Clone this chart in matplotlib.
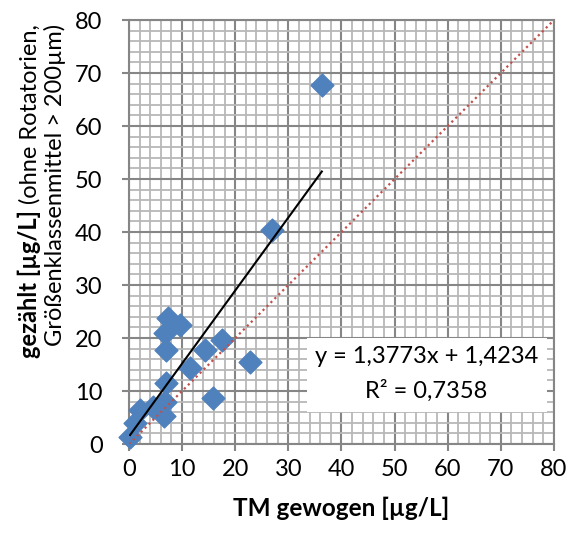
import numpy as np
import matplotlib
matplotlib.use("Agg")
import matplotlib.pyplot as plt
from matplotlib.patches import Rectangle
from matplotlib.ticker import MultipleLocator

plt.rcParams['font.family'] = ['Lato', 'DejaVu Sans']

# TM gewogen vs. gezaehlt [ug/L]
tm_gewogen = [0.2, 1.1, 2.1, 4.6, 6.5, 6.8, 7.0, 6.8, 7.0, 7.4, 9.6,
              11.5, 14.3, 15.9, 17.6, 22.8, 27.0, 36.3]
gezaehlt = [1.4, 4.0, 6.4, 7.0, 5.2, 8.0, 11.5, 20.9, 17.7, 23.7, 22.5,
            14.3, 17.7, 8.6, 19.6, 15.5, 40.3, 67.8]

# Excel trendline
slope = 1.3773
intercept = 1.4234
r2 = 0.7358

ticks = [0, 10, 20, 30, 40, 50, 60, 70, 80]

fig = plt.figure(figsize=(5.7, 5.35), dpi=100)
ax = fig.add_axes([0.2263, 0.170, 0.7456, 0.7926])

ax.set_xlim(0, 80)
ax.set_ylim(0, 80)
ax.set_xticks(ticks)
ax.set_yticks(ticks)
ax.xaxis.set_minor_locator(MultipleLocator(2))
ax.yaxis.set_minor_locator(MultipleLocator(2))
ax.grid(which='minor', color='#b8b8b8', lw=1.3, zorder=0)
ax.grid(which='major', color='#868686', lw=1.5, zorder=0)
ax.set_axisbelow(True)
for s in ax.spines.values():
    s.set_color('#868686')
    s.set_linewidth(1.5)
ax.tick_params(which='major', length=5, width=1.5, color='#868686',
               labelsize=17, pad=14)
ax.tick_params(axis='x', pad=6)
ax.tick_params(which='minor', length=0)

ax.scatter(tm_gewogen, gezaehlt, marker='D', s=135, color='#4F81BD',
           edgecolors='#4F81BD', zorder=3, clip_on=False)

# 1:1 line
ax.plot([0, 80], [0, 80], ls=(0, (1, 1.5)), color='#C0504D', lw=1.6, zorder=4)

# linear trendline over the data range
xs = np.array([min(tm_gewogen), max(tm_gewogen)])
ax.plot(xs, slope * xs + intercept, color='black', lw=1.5, zorder=4)

# equation box
ax.add_patch(Rectangle((0.419, 0.075), 0.565, 0.175, transform=ax.transAxes,
                       facecolor='white', edgecolor='none', zorder=5))
eq = "y = {}x + {}".format(str(slope).replace('.', ','), str(intercept).replace('.', ','))
ax.text(0.70, 0.207, eq, transform=ax.transAxes, ha='center', va='center',
        fontsize=17, zorder=6)
ax.text(0.70, 0.125, "R² = " + str(r2).replace('.', ','), transform=ax.transAxes,
        ha='center', va='center', fontsize=17, zorder=6)

ax.set_xlabel("TM gewogen [µg/L]", fontsize=17.5, fontweight='bold', labelpad=12)

# y label: first line is half bold, half normal -> two pieces placed end to end
W, H = fig.get_size_inches() * fig.dpi
renderer = fig.canvas.get_renderer()
line1_x = 37 / W
line2_x = 62 / W
t1 = fig.text(line1_x, 0, "gezählt [µg/L]", rotation=90, rotation_mode='anchor',
              ha='left', va='baseline', fontsize=17, fontweight='bold')
t2 = fig.text(line1_x, 0, " (ohne Rotatorien,", rotation=90, rotation_mode='anchor',
              ha='left', va='baseline', fontsize=17)
h1 = t1.get_window_extent(renderer).height
h2 = t2.get_window_extent(renderer).height
start = (535 - 191) - (h1 + h2) / 2
t1.set_y(start / H)
t2.set_y((start + h1) / H)

t3 = fig.text(line2_x, 0, "Größenklassenmittel > 200µm)", rotation=90,
              rotation_mode='anchor', ha='left', va='baseline', fontsize=17)
h3 = t3.get_window_extent(renderer).height
t3.set_y(((535 - 185) - h3 / 2) / H)

fig.savefig("out.png", dpi=100)
